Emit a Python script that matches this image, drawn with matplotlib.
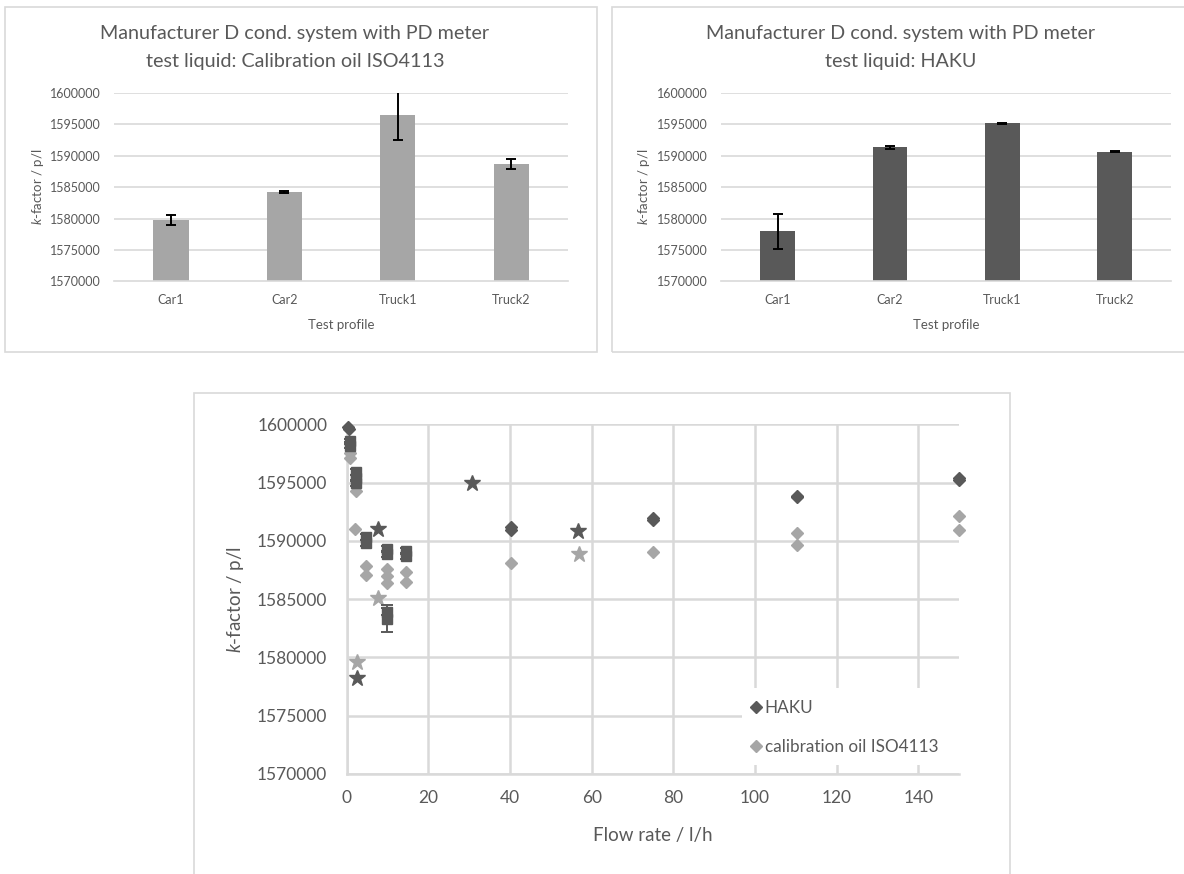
import numpy as np
import matplotlib
matplotlib.use("Agg")
import matplotlib.pyplot as plt
from matplotlib.patches import Rectangle
from matplotlib.lines import Line2D

plt.rcParams['font.family'] = ['Lato', 'DejaVu Sans']
plt.rcParams['mathtext.fontset'] = 'custom'
plt.rcParams['mathtext.rm'] = 'Lato'
plt.rcParams['mathtext.it'] = 'Lato:italic'

# k-factor per test profile (mean and spread)
profiles = ['Car1', 'Car2', 'Truck1', 'Truck2']
oil_mean = [1579700, 1584250, 1596400, 1588650]
oil_err = [800, 200, 3900, 750]
haku_mean = [1577950, 1591300, 1595150, 1590650]
haku_err = [2850, 250, 100, 150]

# k-factor vs flow rate, steady points (diamonds)
haku_flow = [0.3, 0.5, 40.3, 40.3, 75.0, 75.0, 110.3, 110.3, 150.0, 150.0]
haku_k = [1599800, 1599600, 1591200, 1590950, 1591950, 1591800, 1593850, 1593750, 1595350, 1595250]
oil_flow = [0.8, 0.8, 2.3, 2.0, 4.7, 4.7, 9.8, 9.8, 9.8, 14.6, 14.6, 40.3, 75.0, 110.3, 110.3, 150.0, 150.0]
oil_k = [1597500, 1597080, 1594250, 1591050, 1587800, 1587100, 1587600, 1586950, 1586400, 1587350, 1586500,
         1588100, 1589050, 1590700, 1589650, 1592150, 1590950]

# HAKU repeat points with spread (squares)
rep_flow = [0.8, 0.8, 2.3, 2.3, 2.3, 4.7, 4.7, 9.8, 9.8, 14.6, 14.6, 9.8, 9.8]
rep_k = [1598600, 1598150, 1595900, 1595400, 1594950, 1590300, 1589800, 1589300, 1588900, 1589100, 1588700,
         1583900, 1583300]
rep_err = [150, 150, 250, 250, 250, 250, 250, 250, 250, 250, 250, 300, 1150]

# profile averages (stars)
haku_star_flow = [2.6, 7.6, 30.6, 56.7]
haku_star_k = [1578200, 1591050, 1595000, 1590800]
oil_star_flow = [2.6, 7.6, 57.0]
oil_star_k = [1579600, 1585100, 1588850]

DARK = '#595959'
LIGHT = '#A6A6A6'
TEXT = '#595959'
GRID = '#D9D9D9'

W, H = 1184, 874
fig = plt.figure(figsize=(W / 100, H / 100), dpi=100)


def fx(x):
    return x / W


def fy(y):
    return 1 - y / H


def rect(x0, y0, x1, y1):
    return [fx(x0), fy(y1), (x1 - x0) / W, (y1 - y0) / H]


def frame(x0, y0, x1, y1):
    fig.patches.append(Rectangle((fx(x0), fy(y1)), (x1 - x0) / W, (y1 - y0) / H,
                                 transform=fig.transFigure, fill=False,
                                 edgecolor=GRID, lw=1.2, zorder=0))


def bar_panel(x0, x1, means, errs, color, liquid, title_x, ylab_x):
    ax = fig.add_axes(rect(x0, 92.7, x1, 281.5))
    pos = np.arange(len(profiles))
    ax.bar(pos, means, width=0.31, color=color, zorder=2)
    ax.errorbar(pos, means, yerr=errs, fmt='none', ecolor='black',
                elinewidth=1.4, capsize=3.5, capthick=1.4, zorder=3)
    ax.set_xlim(-0.5, len(profiles) - 0.5)
    ax.set_ylim(1570000, 1600000)
    ax.set_yticks(np.arange(1570000, 1600001, 5000))
    ax.yaxis.set_major_formatter(matplotlib.ticker.FuncFormatter(lambda v, p: f'{v:.0f}'))
    ax.set_xticks(pos)
    ax.set_xticklabels(profiles)
    ax.tick_params(length=0, labelsize=9, colors=TEXT)
    ax.tick_params(axis='y', pad=10)
    ax.tick_params(axis='x', pad=9)
    ax.grid(axis='y', color=GRID, lw=1.2, zorder=0)
    ax.set_axisbelow(True)
    for s in ['top', 'right', 'left']:
        ax.spines[s].set_visible(False)
    ax.spines['bottom'].set_color(GRID)
    ax.spines['bottom'].set_linewidth(1.2)
    fig.text(title_x, fy(33), 'Manufacturer D cond. system with PD meter',
             ha='center', va='center', fontsize=14.2, color=TEXT)
    fig.text(title_x, fy(61), f'test liquid: {liquid}',
             ha='center', va='center', fontsize=14.2, color=TEXT)
    fig.text(fx((x0 + x1) / 2), fy(325), 'Test profile',
             ha='center', va='center', fontsize=9.5, color=TEXT)
    fig.text(ylab_x, fy(187), r'$\it{k}$-factor / p/l', rotation=90,
             ha='center', va='center', fontsize=9.5, color=TEXT)
    return ax


frame(5, 7, 597, 352)
frame(611.7, 7, 1210, 352)
frame(194, 392.7, 1010, 890)

bar_panel(114.3, 568, oil_mean, oil_err, LIGHT, 'Calibration oil ISO4113', fx(295), fx(38))
bar_panel(721.3, 1171, haku_mean, haku_err, DARK, 'HAKU', fx(901), fx(644))

# flow rate scatter
ax = fig.add_axes(rect(346.7, 424.3, 959.2, 773.8))
ax.set_xlim(0, 150)
ax.set_ylim(1570000, 1600000)
ax.set_xticks(np.arange(0, 141, 20))
ax.set_yticks(np.arange(1570000, 1600001, 5000))
ax.yaxis.set_major_formatter(matplotlib.ticker.FuncFormatter(lambda v, p: f'{v:.0f}'))
ax.grid(color=GRID, lw=1.8, zorder=0)
ax.set_axisbelow(True)
for s in ['top', 'right']:
    ax.spines[s].set_visible(False)
for s in ['left', 'bottom']:
    ax.spines[s].set_color(GRID)
    ax.spines[s].set_linewidth(1.8)
ax.tick_params(length=0, labelsize=12.5, colors=TEXT)
ax.tick_params(axis='y', pad=14)
ax.tick_params(axis='x', pad=12)

ax.errorbar(rep_flow, rep_k, yerr=rep_err, fmt='s', ms=6.5, color=DARK, ecolor=DARK,
            elinewidth=1.4, capsize=4, capthick=1.4, zorder=4, clip_on=False)
ax.plot(oil_flow, oil_k, 'D', ms=6.5, color=LIGHT, mec=LIGHT, zorder=3, clip_on=False)
ax.plot(haku_flow, haku_k, 'D', ms=6.5, color=DARK, mec=DARK, zorder=5, clip_on=False)
ax.plot(oil_star_flow, oil_star_k, '*', ms=12, color=LIGHT, mec=LIGHT, zorder=3, clip_on=False)
ax.plot(haku_star_flow, haku_star_k, '*', ms=12, color=DARK, mec=DARK, zorder=5, clip_on=False)

fig.text(fx(235), fy(599), r'$\it{k}$-factor / p/l', rotation=90,
         ha='center', va='center', fontsize=13.5, color=TEXT)
fig.text(fx(653), fy(836), 'Flow rate / l/h', ha='center', va='center',
         fontsize=13.5, color=TEXT)

# legend sits on a white patch cut out of the grid
ax.add_patch(Rectangle((fx(742), fy(765)), (959 - 742) / W, (765 - 688) / H,
                       transform=fig.transFigure, facecolor='white', edgecolor='none', zorder=1))
handles = [Line2D([], [], ls='none', marker='D', ms=6.5, color=DARK),
           Line2D([], [], ls='none', marker='D', ms=6.5, color=LIGHT)]
leg = ax.legend(handles, ['HAKU', 'calibration oil ISO4113'], loc='upper left',
                bbox_to_anchor=(fx(751.2), fy(700)), bbox_transform=fig.transFigure,
                frameon=False, fontsize=12.3, handlelength=0.6, handletextpad=0.2,
                borderpad=0, borderaxespad=0, labelspacing=1.35)
for t in leg.get_texts():
    t.set_color(TEXT)

fig.savefig('out.png', dpi=100)
